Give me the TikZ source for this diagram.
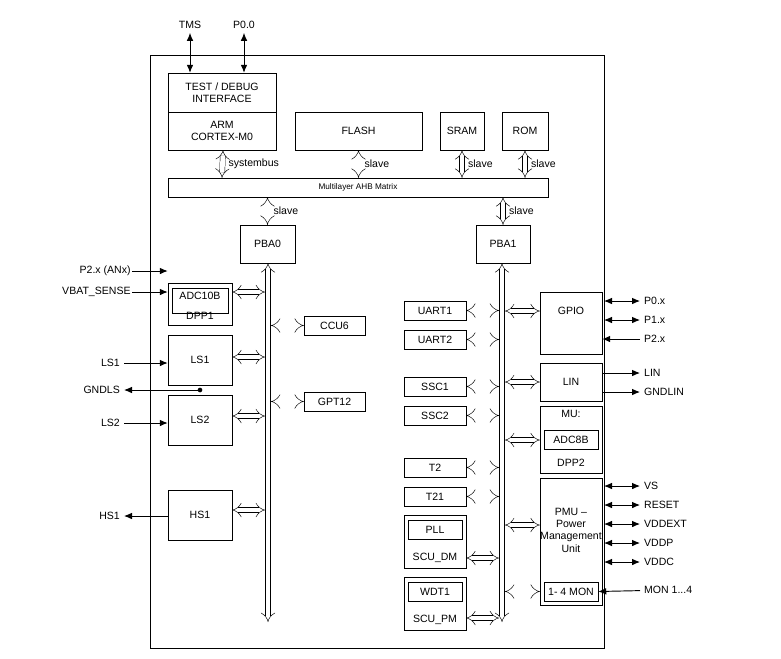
\documentclass[tikz,border=0pt]{standalone}
\usepackage{fontspec}
\setmainfont{Liberation Sans}
\usetikzlibrary{arrows.meta}
\tikzset{%
  box/.style   = {draw, rectangle, inner sep=0pt, align=center}, % block
  wh/.style 2 args = {minimum width=#1*0.03cm, minimum height=#2*0.03cm},
  harrow/.style = {draw, double, double distance=4pt, {Implies}-{Implies}}, % hollow bus arrow
  pin/.style   = {thick, -{Latex[length=2.4mm,width=2mm]}},
  pins/.style  = {thick, {Latex[length=2.4mm,width=2mm]}-{Latex[length=2.4mm,width=2mm]}},
  lab/.style   = {inner sep=1pt},
  small/.style = {font=\fontsize{7}{8}\selectfont}
}

\begin{document}
\begin{tikzpicture}[x=0.03cm, y=-0.03cm, font=\fontsize{9}{10.5}\selectfont]
\useasboundingbox (0,0) rectangle (781,658);
\draw[thick] (150,55) rectangle (604,648);
% core and memories
\node[box, wh={108}{39}] (test) at (222,92.5) {TEST / DEBUG\\INTERFACE};
\node[box, wh={108}{38}] (arm) at (222,131) {ARM\\CORTEX-M0};
\node[box, wh={127}{38}] (flash) at (358.5,131) {FLASH};
\node[box, wh={44}{38}] (sram) at (462,131) {SRAM};
\node[box, wh={46}{38}] (rom) at (525,131) {ROM};
\node[box, wh={380}{19}, small] (matrix) at (358,187.5) {Multilayer AHB Matrix};
\node[box, wh={55}{38}] (pba0) at (267.5,244) {PBA0};
\node[box, wh={54}{38}] (pba1) at (503,244) {PBA1};
\node (tms) at (190,25) {TMS};
\node (p00) at (244,25) {P0.0};
\draw[pins] (tms) -- (tms |- test.north);
\draw[pins] (p00) -- (p00 |- test.north);
\draw[harrow] (arm.south) ++(1,0) -- (arm.south |- matrix.north) node[midway, right=4pt, lab] {systembus};
\draw[harrow] (flash.south) -- (flash.south |- matrix.north) node[midway, right=4pt, lab] {slave};
\draw[harrow] (sram.south) -- (sram.south |- matrix.north) node[midway, right=4pt, lab] {slave};
\draw[harrow] (rom.south) -- (rom.south |- matrix.north) node[midway, right=4pt, lab] {slave};
\draw[harrow] (pba0.north) -- (pba0.north |- matrix.south) node[midway, right=4pt, lab] {slave};
\draw[harrow] (pba1.north) -- (pba1.north |- matrix.south) node[midway, right=4pt, lab] {slave};
% peripheral buses
\coordinate (bus0) at (268,622);
\coordinate (bus1) at (502,622);
\draw[harrow] (bus0 |- pba0.south) -- (bus0);
\draw[harrow] (bus1 |- pba1.south) -- (bus1);
\coordinate (b0l) at (265,0);
\coordinate (b0r) at (271,0);
\coordinate (b1l) at (499,0);
\coordinate (b1r) at (505,0);
% left side
\node[box, wh={64}{42}] (dpp1) at (200,304) {};
\node[box, wh={56}{25}, anchor=north] (adc10b) at (200,288) {};
\node[anchor=north] at (adc10b.north) {ADC10B};
\node at (200,316) {DPP1};
\node[box, wh={64}{50}] (ls1) at (200,360) {LS1};
\node[box, wh={64}{50}] (ls2) at (200,420) {LS2};
\node[box, wh={64}{50}] (hs1) at (200,515) {HS1};
\node[box, wh={61}{19}] (ccu6) at (334.5,325.5) {CCU6};
\node[box, wh={61}{19}] (gpt12) at (334.5,401.5) {GPT12};
\draw[harrow] (dpp1.east |- 0,292) -- (b0l |- 0,292);
\draw[harrow] (ls1.east |- 0,357) -- (b0l |- 0,357);
\draw[harrow] (ls2.east |- 0,416) -- (b0l |- 0,416);
\draw[harrow] (hs1.east |- 0,510) -- (b0l |- 0,510);
\draw[harrow] (ccu6.west) -- (ccu6.west -| b0r);
\draw[harrow] (gpt12.west) -- (gpt12.west -| b0r);
\node[anchor=east, lab] (p2an) at (132,271) {P2.x (ANx)};
\node[anchor=east, lab] (vbat) at (132,292) {VBAT\_SENSE};
\node[anchor=east] (lsa) at (124,363) {LS1};
\node[anchor=east] (gndls) at (124,390) {GNDLS};
\node[anchor=east] (lsb) at (124,423) {LS2};
\node[anchor=east] (hsa) at (124,516) {HS1};
\draw[pin] (p2an) -- (p2an -| dpp1.west);
\draw[pin] (vbat) -- (vbat -| dpp1.west);
\draw[pin] (lsa) -- (lsa -| ls1.west);
\draw[pin] (lsb) -- (lsb -| ls2.west);
\draw[pin] (hs1.west |- hsa) -- (hsa);
\coordinate (gnddot) at (200,390);
\fill (gnddot) circle (2pt);
\draw[pin] (gnddot) -- (gndls);
% right side
\foreach \nm/\txt/\yy in {uart1/UART1/310.5, uart2/UART2/339.5, ssc1/SSC1/386.5,
    ssc2/SSC2/415.5, t2/T2/467.5, t21/T21/496.5}{
  \node[box, wh={62}{19}] (\nm) at (435,\yy) {\txt};
  \draw[harrow] (\nm.east) -- (\nm.east -| b1l);
}
\node[box, wh={62}{53}] (scudm) at (435,541.5) {};
\node[box, wh={54}{19}] (pll) at (435,529.5) {PLL};
\node at (435,558) {SCU\_DM};
\node[box, wh={62}{53}] (scupm) at (435,603.5) {};
\node[box, wh={54}{19}] (wdt1) at (435,591.5) {WDT1};
\node at (435,620) {SCU\_PM};
\draw[harrow] (scudm.east |- 0,558) -- (b1l |- 0,558);
\draw[harrow] (scupm.east |- 0,618) -- (b1l |- 0,618);
\node[box, wh={62}{62}] (gpio) at (571,323) {};
\node at (571,311) {GPIO};
\node[box, wh={62}{38}] (lin) at (571,382) {LIN};
\node[box, wh={62}{67}] (mu) at (571,439.5) {};
\node[box, wh={54}{19}] (adc8b) at (571,439.5) {ADC8B};
\node at (571,414) {MU:};
\node at (571,463) {DPP2};
\node[box, wh={62}{127}] (pmu) at (571,541.5) {};
\node[align=center, inner sep=0pt] at (571,530) {PMU --\\Power\\Management\\Unit};
\node[box, wh={54}{19}] (mon) at (571,591.5) {1- 4 MON};
\draw[harrow] (b1r |- 0,311) -- (gpio.west |- 0,311);
\draw[harrow] (b1r |- lin) -- (lin.west);
\draw[harrow] (b1r |- 0,440) -- (mu.west |- 0,440);
\draw[harrow] (b1r |- 0,525) -- (pmu.west |- 0,525);
\draw[harrow] (b1r |- mon) -- (pmu.west |- mon);
\foreach \nm/\txt/\yy in {p0x/P0.x/301, p1x/P1.x/320, vs/VS/486, reset/RESET/505,
    vddext/VDDEXT/524, vddp/VDDP/543, vddc/VDDC/562}{
  \node[anchor=west] (\nm) at (640,\yy) {\txt};
  \draw[pins] (604,\yy) -- (\nm);
}
\node[anchor=west] (p2x) at (640,339) {P2.x};
\node[anchor=west] (linp) at (640,373) {LIN};
\node[anchor=west] (gndlin) at (640,392) {GNDLIN};
\node[anchor=west] (monp) at (640,590) {MON 1...4};
\draw[pin] (p2x) -- (p2x -| gpio.east);
\draw[pin] (linp -| lin.east) -- (linp);
\draw[pin] (gndlin -| lin.east) -- (gndlin);
\draw[pin] (monp) -- (mon.east);
\end{tikzpicture}
\end{document}
